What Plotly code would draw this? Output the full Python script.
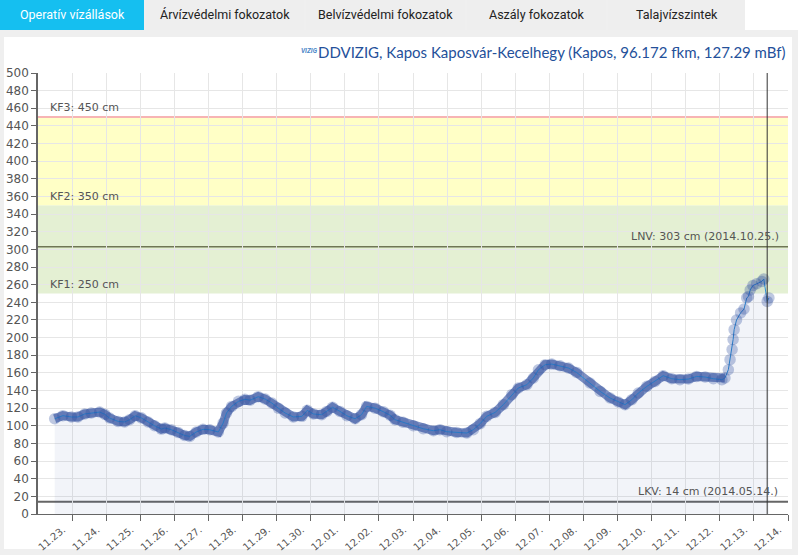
import pandas as pd
import plotly.graph_objects as go

# water level readings (days since 11.22 00:00, cm)
day_offsets = [
    0.49, 0.73, 0.98, 1.17, 1.37, 1.56, 1.81, 1.96, 2.10, 2.35,
    2.54, 2.69, 2.85, 3.03, 3.23, 3.42, 3.62, 3.72, 3.91, 4.11,
    4.30, 4.45, 4.64, 4.84, 5.04, 5.29, 5.43, 5.53, 5.68, 5.88,
    6.07, 6.22, 6.46, 6.66, 6.86, 7.05, 7.25, 7.49, 7.74, 7.90,
    8.08, 8.32, 8.47, 8.64, 8.86, 9.06, 9.30, 9.49, 9.64, 9.89,
    10.13, 10.33, 10.47, 10.71, 11.01, 11.30, 11.60, 11.79, 11.99, 12.28,
    12.58, 12.77, 12.97, 13.16, 13.41, 13.65, 13.90, 14.09, 14.34, 14.53,
    14.68, 14.88, 15.07, 15.31, 15.56, 15.80, 16.19, 16.49, 16.78, 17.02,
    17.22, 17.42, 17.61, 17.86, 18.10, 18.34, 18.59, 18.83, 19.08, 19.32,
    19.57, 19.81, 20.06, 20.15, 20.25, 20.30, 20.36, 20.39, 20.42, 20.49,
    20.61, 20.71, 20.79, 20.84, 20.89, 20.97, 21.08, 21.23, 21.29, 21.39,
    21.44,
]
levels = [
    108, 111.5, 110, 110, 113.4, 114.5, 115.6, 113, 108.8, 105,
    104.3, 107, 111.4, 109, 104.3, 100, 96.3, 97.5, 95.6, 92.5,
    89, 88, 93, 96, 95.5, 93, 103, 114.5, 122, 127.7,
    130, 129, 133, 130.4, 125.8, 120, 114.5, 110, 110.7, 117.5,
    113.4, 112.6, 116.3, 121, 116.3, 111.4, 108, 112.6, 122, 120,
    116, 112, 107, 104, 100, 96.7, 94.4, 95.6, 93.3, 92.5,
    91.8, 95.6, 102.4, 110.7, 115.2, 124, 135.3, 142.9, 146.6, 154.2,
    163.6, 169.3, 170, 168.1, 165.5, 160.5, 148.5, 139, 131.5, 127,
    124, 129.6, 137.2, 144.7, 150.3, 156.8, 153.4, 152.3, 153, 156,
    155.3, 153.4, 152.3, 154.2, 163.6, 175, 186.5, 197.8, 209, 220,
    228, 232.4, 245, 246.7, 254, 259, 261, 263.7, 266.4, 241,
    245,
]
# readings before the sharp rise of 12.12. (drawn as the dense band)
n_dense = 94

# warning levels
kf_levels = [250, 350, 450]
kf_labels = ["KF1: 250 cm", "KF2: 350 cm", "KF3: 450 cm"]
lnv_level, lnv_label = 303, "LNV: 303 cm (2014.10.25.)"
lkv_level, lkv_label = 14, "LKV: 14 cm (2014.05.14.)"

tabs = ["Operatív vízállások", "Árvízvédelmi fokozatok", "Belvízvédelmi fokozatok",
        "Aszály fokozatok", "Talajvízszintek"]
title = "DDVIZIG, Kapos Kaposvár-Kecelhegy (Kapos, 96.172 fkm, 127.29 mBf)"

t0 = pd.Timestamp("2020-11-22")
times = t0 + pd.to_timedelta(day_offsets, unit="D")
tick_days = pd.date_range("2020-11-23", "2020-12-14", freq="D")

W, H = 798, 555
L, R, T, B = 38, 10, 73, 41
PW, PH = W - L - R, H - T - B


def px(x):
    # page pixel -> paper x
    return (x - L) / PW


def py(y):
    # page pixel -> paper y
    return (H - B - y) / PH


TICK_FONT = "DejaVu Sans"
GRAY = "#555555"

fig = go.Figure()
fig.add_trace(go.Scatter(
    x=times, y=levels, mode="none",
    fill="tozeroy", fillcolor="rgba(40,60,150,0.06)",
    hoverinfo="skip", showlegend=False,
))
# soft thick band behind the markers
fig.add_trace(go.Scatter(
    x=times[:n_dense], y=levels[:n_dense], mode="lines",
    line=dict(color="rgba(40,72,155,0.6)", width=9),
    hoverinfo="skip", showlegend=False,
))
fig.add_trace(go.Scatter(
    x=times, y=levels, mode="lines+markers",
    line=dict(color="#2a8fd8", width=1),
    marker=dict(size=11.5, color="rgba(40,72,155,0.3)", line=dict(width=0)),
    hoverinfo="x+y", showlegend=False,
))

shapes = []
# white card behind the chart
shapes.append(dict(type="rect", xref="paper", yref="paper", layer="below",
                   x0=px(4), x1=px(792), y0=py(549), y1=py(37),
                   fillcolor="white", line=dict(width=0)))
# tabs along the top
tab_edges = [(0, 144), (146, 304), (306, 465), (467, 606), (608, 745)]
annotations = []
for i, (name, (a, b)) in enumerate(zip(tabs, tab_edges)):
    active = i == 0
    shapes.append(dict(type="rect", xref="paper", yref="paper", layer="below",
                       x0=px(a), x1=px(b), y0=py(30), y1=py(0),
                       fillcolor="#15bff0" if active else "#eeeeee",
                       line=dict(width=0)))
    annotations.append(dict(x=px((a + b) / 2), y=py(15), xref="paper", yref="paper",
                            text=name, showarrow=False, xanchor="center", yanchor="middle",
                            font=dict(family="Roboto", size=12.5,
                                      color="white" if active else "#222222")))
# white strip right of tabs
shapes.append(dict(type="rect", xref="paper", yref="paper", layer="below",
                   x0=px(745), x1=px(798), y0=py(30), y1=py(0),
                   fillcolor="white", line=dict(width=0)))

# warning bands
shapes.append(dict(type="rect", xref="paper", yref="y", layer="below",
                   x0=0, x1=1, y0=kf_levels[0], y1=kf_levels[1],
                   fillcolor="#e4f0d3", line=dict(width=0)))
shapes.append(dict(type="rect", xref="paper", yref="y", layer="below",
                   x0=0, x1=1, y0=kf_levels[1], y1=kf_levels[2],
                   fillcolor="#ffffc6", line=dict(width=0)))
shapes.append(dict(type="line", xref="paper", yref="y", layer="between",
                   x0=0, x1=1, y0=kf_levels[2], y1=kf_levels[2],
                   line=dict(color="#f7b4b4", width=2)))
shapes.append(dict(type="line", xref="paper", yref="y", layer="between",
                   x0=0, x1=1, y0=lnv_level, y1=lnv_level,
                   line=dict(color="#6f7655", width=1.6)))
shapes.append(dict(type="line", xref="paper", yref="y", layer="between",
                   x0=0, x1=1, y0=lkv_level, y1=lkv_level,
                   line=dict(color="#666666", width=2)))
# current time marker
shapes.append(dict(type="line", xref="x", yref="paper", layer="above",
                   x0=times[-2], x1=times[-2], y0=0, y1=1,
                   line=dict(color="#333333", width=1)))

for lvl, txt in zip(kf_levels, kf_labels):
    annotations.append(dict(x=px(48), y=lvl + 10.5, xref="paper", yref="y",
                            text=txt, showarrow=False, xanchor="left", yanchor="middle",
                            font=dict(family=TICK_FONT, size=11, color=GRAY)))
annotations.append(dict(x=px(781), y=lnv_level + 11.5, xref="paper", yref="y",
                        text=lnv_label, showarrow=False, xanchor="right", yanchor="middle",
                        font=dict(family=TICK_FONT, size=11, color=GRAY)))
annotations.append(dict(x=px(780), y=lkv_level + 12, xref="paper", yref="y",
                        text=lkv_label, showarrow=False, xanchor="right", yanchor="middle",
                        font=dict(family=TICK_FONT, size=11, color=GRAY)))
# title with the little logo text
annotations.append(dict(x=px(788), y=py(52), xref="paper", yref="paper",
                        text=title, showarrow=False, xanchor="right", yanchor="middle",
                        font=dict(family="Lato", size=15, color="#24509a")))
annotations.append(dict(x=px(309), y=py(51), xref="paper", yref="paper",
                        text="<b><i>VIZIG</i></b>", showarrow=False, xanchor="center",
                        yanchor="middle",
                        font=dict(family="Roboto", size=6.5, color="#4a86c8")))

fig.update_layout(
    width=W, height=H,
    margin=dict(l=L, r=R, t=T, b=B),
    paper_bgcolor="#efefef", plot_bgcolor="rgba(0,0,0,0)",
    shapes=shapes, annotations=annotations,
    showlegend=False,
)
fig.update_xaxes(
    automargin=False,
    range=[t0, t0 + pd.Timedelta(days=22)],
    tickvals=tick_days, tickformat="%m.%d.", tickangle=-40,
    tickfont=dict(family=TICK_FONT, size=10, color=GRAY),
    ticklabelshift=-9, ticklabelstandoff=-1,
    showgrid=True, gridcolor="#e6e6e6", gridwidth=1,
    showline=True, linecolor="#666666", linewidth=1,
    ticks="outside", ticklen=6, tickcolor="#666666",
    zeroline=False,
)
fig.update_yaxes(
    automargin=False,
    range=[0, 500], dtick=20, tick0=0,
    tickfont=dict(family=TICK_FONT, size=12, color=GRAY),
    showgrid=True, gridcolor="#e6e6e6", gridwidth=1,
    showline=True, linecolor="#666666", linewidth=1.5,
    ticks="outside", ticklen=5, tickcolor="#666666",
    zeroline=False,
)

# the page's default body margin would shift the figure by 8px
fig.write_html("out.html", config={"displayModeBar": False},
               post_script="document.body.style.margin = '0';")
